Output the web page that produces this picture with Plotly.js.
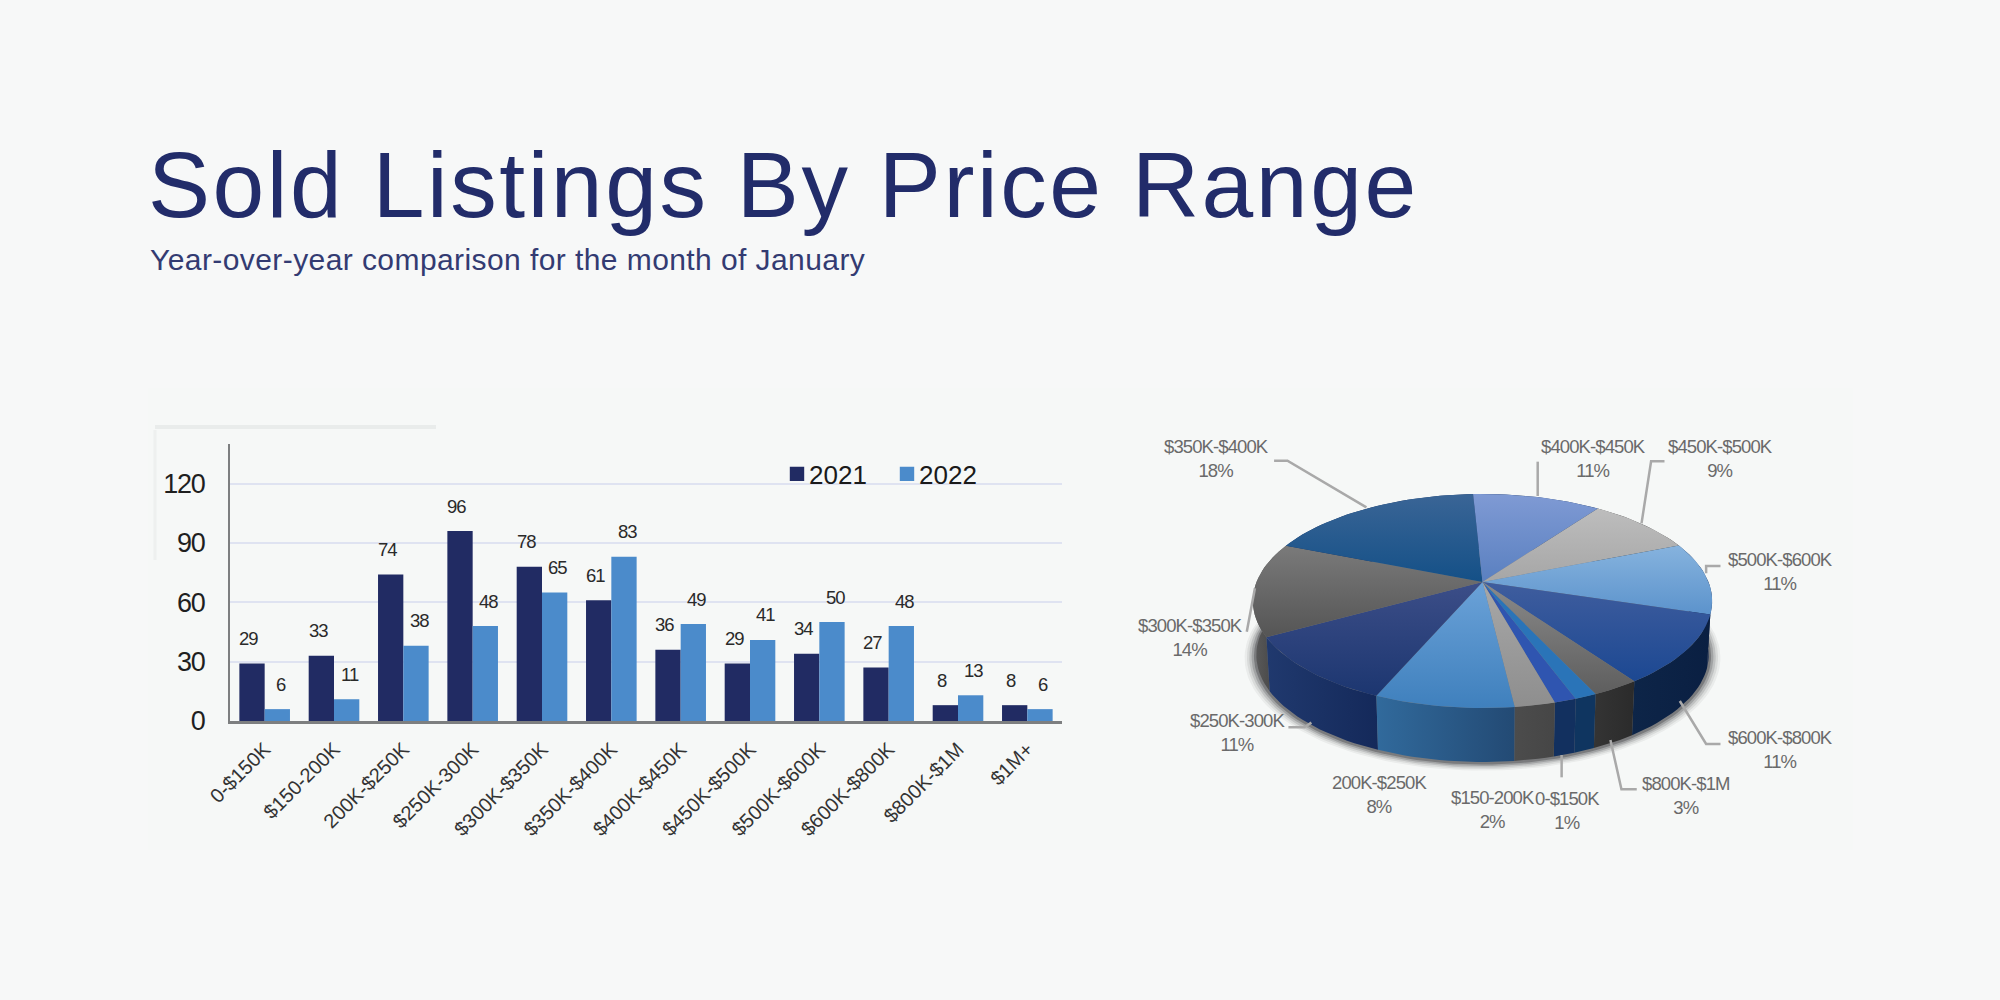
<!DOCTYPE html>
<html><head><meta charset="utf-8">
<script src="https://cdn.plot.ly/plotly-3.0.1.min.js"></script>
<style>
html,body{margin:0;padding:0;background:#f7f8f8}
#c{width:2000px;height:1000px}
.legend .legendpoints path{transform:translate(28px,0px) scale(1.2)}
.ytick text{letter-spacing:-1.2px}
</style></head><body><div id="c"></div>
<script>
// ---- data ----
const categories = ["0-$150K","$150-200K","200K-$250K","$250K-300K","$300K-$350K","$350K-$400K","$400K-$450K","$450K-$500K","$500K-$600K","$600K-$800K","$800K-$1M","$1M+"];
const sold2021 = [29,33,74,96,78,61,36,29,34,27,8,8];
const sold2022 = [6,11,38,48,65,83,49,41,50,48,13,6];
const piePercentLabels = [1,2,8,11,14,18,11,9,11,11,3];   // printed on the pie; $1M+ has no label
const yTicks = [0,30,60,90,120];

// ---- page geometry ----
const W=2000,H=1000;
const NAVY='#212b63',BLUE='#4b8bcb';
const pieFirstAngle=159.9;         // clockwise from 12 o'clock, where the first category starts
const tilt={A:226,B:103.6,k:0.1776,wall:54,wallScale:0.985};
// slice styling: [top face upper, top face lower, wall left, wall right]
const sliceStyle=[
 ['#2f55b0','#2f55b0','#12305f','#12305f'],
 ['#a8a8a8','#8e8e8e','#4c4c4c','#464646'],
 ['#6ba2d8','#3f80bd','#316a9c','#234a74'],
 ['#3c4e88','#1c3670','#20396e','#14295a'],
 ['#7a7a7a','#555555','#5c5c5c','#383838'],
 ['#3a6596','#145087','#14305f','#14305f'],
 ['#7f9ad4','#5a80c0','#14305f','#14305f'],
 ['#bdbdbd','#a6a6a6','#333333','#333333'],
 ['#86b3de','#5c93cc','#12264e','#12264e'],
 ['#3f5d9e','#1c4892','#0d2548','#0a1f42'],
 ['#8a8a8a','#5e5e5e','#343434','#2b2b2b'],
 ['#2a74b8','#2a74b8','#0f3560','#0f3560']
];
// label centres and leader elbows, in pixels relative to the pie apex
const apex={x:1482.5,y:582};
const zx=z=>1120+z/2.09-apex.x, zy=z=>apex.y-(420+z/3);
const labelAt={
 0:[935,1172,[[923,1072],[923,1005]]],
 1:[780,1168,null],
 2:[542,1123,null],
 3:[245,937,[[352,922],[385,922],[400,908]]],
 4:[147,653,[[265,635],[282,505]]],
 5:[202,117,[[322,122],[350,122],[515,262]]],
 6:[990,117,[[873,125],[873,228]]],
 7:[1256,117,[[1138,124],[1110,124],[1090,310]]],
 8:[1380,455,[[1255,438],[1225,438],[1225,460]]],
 9:[1380,988,[[1255,972],[1225,972],[1170,843]]],
 10:[1182,1125,[[1080,1108],[1048,1108],[1025,960]]]
};
const tight=(t,s)=>`<span style="letter-spacing:${s}px">${t}</span>`;

// ---- projection of the pie disc ----
const rad=d=>d*Math.PI/180;
function proj(deg,r=1){const u=r*Math.sin(rad(deg)),v=r*Math.cos(rad(deg)),d=1+tilt.k*v;return [tilt.A*u/d,tilt.B*v/d];}
function low(deg,r=1){const p=proj(deg,r);return [p[0]*tilt.wallScale,p[1]-tilt.wall];}
function arc(a,b,f){const n=Math.max(2,Math.ceil(Math.abs(b-a)/2)),o=[];for(let i=0;i<=n;i++)o.push(f(a+(b-a)*i/n));return o;}
const total=sold2022.reduce((s,v)=>s+v,0);
let cum=pieFirstAngle;
const slices=sold2022.map((v,i)=>{const a=cum,b=cum+v/total*360;cum=b;return {i,a,b,mid:(a+b)/2,v};});

const piexy={xaxis:'x2',yaxis:'y2',hoverinfo:'skip',showlegend:false,mode:'lines',line:{width:0}};
const traces=[];
// soft shadow under the disc
[[1.05,.05],[1.04,.08],[1.03,.12],[1.02,.18],[1.01,.28]].forEach(([r,o])=>{
  const pts=arc(0,360,d=>low(d,r));
  traces.push({...piexy,x:pts.map(p=>p[0]),y:pts.map(p=>p[1]-1),fill:'toself',fillcolor:`rgba(20,20,25,${o})`});
});
// side walls, back to front
[...slices].sort((p,q)=>Math.cos(rad(q.mid))-Math.cos(rad(p.mid))).forEach(s=>{
  const st=sliceStyle[s.i],top=arc(s.a,s.b,d=>proj(d)),bot=arc(s.b,s.a,d=>low(d)),pts=top.concat(bot);pts.push(pts[0]);
  traces.push({...piexy,x:pts.map(p=>p[0]),y:pts.map(p=>p[1]),fill:'toself',
    fillgradient:{type:'horizontal',colorscale:[[0,st[2]],[1,st[3]]]}});
});
// top faces
slices.forEach(s=>{
  const st=sliceStyle[s.i],pts=[[0,0]].concat(arc(s.a,s.b,d=>proj(d)),[[0,0]]);
  traces.push({...piexy,name:categories[s.i],x:pts.map(p=>p[0]),y:pts.map(p=>p[1]),fill:'toself',
    fillgradient:{type:'vertical',colorscale:[[0,st[1]],[1,st[0]]]}});
});
// leader lines
slices.forEach(s=>{const L=labelAt[s.i];if(!L||!L[2])return;
  traces.push({...piexy,x:L[2].map(p=>zx(p[0])),y:L[2].map(p=>zy(p[1])),line:{color:'#a9a9a9',width:2.5}});
});

// bars
traces.push({type:'bar',name:'2021',x:categories,y:sold2021,marker:{color:NAVY},hoverinfo:'x+y+name'});
traces.push({type:'bar',name:'2022',x:categories,y:sold2022,marker:{color:BLUE},hoverinfo:'x+y+name'});

// value labels above bars
const annotations=[];
const off=0.18;
const valFont={family:'Liberation Sans',size:18.5,color:'#2a2a2a'};
sold2021.forEach((v,i)=>annotations.push({xref:'x',yref:'y',x:i-off,y:v,yshift:25,xshift:-3.5,text:tight(v,-1),showarrow:false,font:valFont}));
sold2022.forEach((v,i)=>annotations.push({xref:'x',yref:'y',x:i+off,y:v,yshift:25,xshift:3.5,text:tight(v,-1),showarrow:false,font:valFont}));
// pie labels
slices.forEach(s=>{const L=labelAt[s.i];if(!L)return;
  annotations.push({xref:'x2',yref:'y2',x:zx(L[0]),y:zy(L[1]),text:tight(categories[s.i],-0.9)+'<br>'+tight(piePercentLabels[s.i]+'%',-0.9),showarrow:false,align:'center',
    font:{family:'Liberation Sans',size:18.5,color:'#6a6a6a'}});
});
// subtitle
annotations.push({xref:'paper',yref:'paper',x:148/W,y:1-259/H,xanchor:'left',yanchor:'middle',showarrow:false,
  text:tight('Year-over-year comparison for the month of January',0.42),font:{family:'Liberation Sans',size:30,color:'#333b72'}});

const px=(x)=>x/W, py=(y)=>1-y/H;
const shapes=[
 {type:'rect',xref:'paper',yref:'paper',x0:px(148),x1:px(1853),y0:py(388),y1:py(850),fillcolor:'#f6f8f7',line:{width:0},layer:'below'},
 {type:'line',xref:'paper',yref:'paper',x0:px(155),x1:px(436),y0:py(427),y1:py(427),line:{color:'rgba(170,175,175,0.16)',width:4},layer:'below'},
 {type:'line',xref:'paper',yref:'paper',x0:px(155),x1:px(155),y0:py(430),y1:py(560),line:{color:'rgba(170,175,175,0.1)',width:3},layer:'below'}
];

const layout={
 width:W,height:H,margin:{l:0,r:0,t:0,b:0},paper_bgcolor:'#f7f8f8',plot_bgcolor:'rgba(0,0,0,0)',
 showlegend:true,barmode:'group',bargap:0.27,bargroupgap:0,
 title:{text:tight('Sold Listings By Price Range',2.55),x:148/W,xanchor:'left',y:py(184),yanchor:'middle',font:{family:'Liberation Sans',size:93,color:'#222c6a'}},
 legend:{orientation:'h',x:px(769),y:py(474),xanchor:'left',yanchor:'middle',bgcolor:'rgba(0,0,0,0)',
   font:{family:'Liberation Sans',size:26,color:'#1a1a1a'},entrywidth:65,entrywidthmode:'pixels',traceorder:'normal'},
 xaxis:{domain:[px(230),px(1062)],anchor:'y',type:'category',range:[-0.5,11.5],tickangle:-45,ticklen:0,showline:true,linecolor:'#7d7f80',linewidth:2.5,showgrid:false,ticklabelstandoff:6,
   categoryorder:'array',categoryarray:categories,
   tickfont:{family:'Liberation Sans',size:20,color:'#333333'}},
 yaxis:{domain:[py(721),py(444)],anchor:'x',range:[0,140],tickvals:yTicks,ticklen:0,showline:true,linecolor:'#7d7f80',linewidth:2,showgrid:true,gridcolor:'#dfe3f1',gridwidth:2,zeroline:false,ticklabelstandoff:18,
   tickfont:{family:'Liberation Sans',size:27,color:'#1f1f1f'}},
 xaxis2:{domain:[px(1120),px(1880)],anchor:'y2',range:[1120-apex.x,1880-apex.x],visible:false,fixedrange:true},
 yaxis2:{domain:[py(880),py(420)],anchor:'x2',range:[apex.y-880,apex.y-420],visible:false,fixedrange:true},
 annotations,shapes
};
Plotly.newPlot('c',traces,layout,{displayModeBar:false,responsive:false});
</script></body></html>
